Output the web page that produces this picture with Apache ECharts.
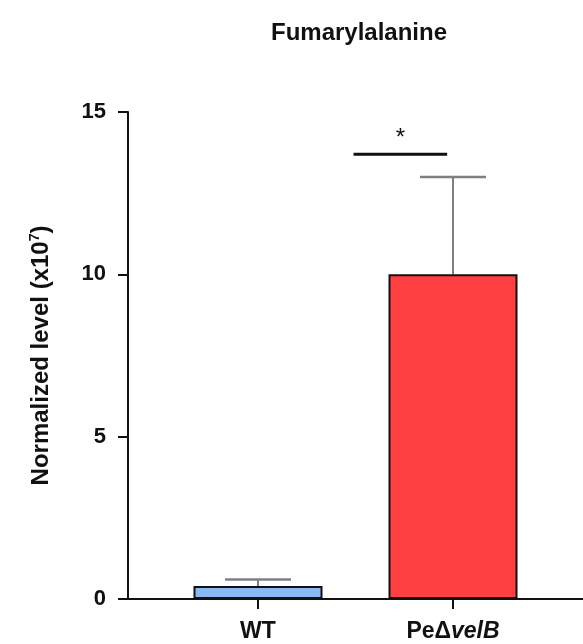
<!DOCTYPE html>
<html><head><meta charset="utf-8">
<script src="https://cdn.jsdelivr.net/npm/echarts@6/dist/echarts.min.js"></script>
<style>html,body{margin:0;padding:0;background:#fff}#c{width:583px;height:644px}</style>
</head><body><div id="c"></div>
<script>
// Data
const categories = ['WT', 'PeΔvelB'];
const categoryPositions = [1, 2];
const means = [0.4, 10.0];
const errorTops = [0.6, 13.0];
const barColors = ['#8ab8f5', '#ff4040'];
const yTicks = [0, 5, 10, 15];
const sigFrom = [1.49];
const sigTo = [1.97];
const sigLevel = [13.7];
const sigLabel = ['*'];

const FONT = '"Liberation Sans", Arial, sans-serif';
const chart = echarts.init(document.getElementById('c'));

const barData = categoryPositions.map((p, i) => ({
  value: [p, means[i]],
  itemStyle: { color: barColors[i], borderColor: '#111', borderWidth: 2 }
}));
const errData = categoryPositions.map((p, i) => [p, means[i], errorTops[i]]);
const sigData = sigFrom.map((f, i) => [f, sigTo[i], sigLevel[i], sigLabel[i]]);

chart.setOption({
  animation: false,
  backgroundColor: '#fff',
  title: {
    text: 'Fumarylalanine', left: 354, top: 16, textAlign: 'center',
    textStyle: { fontFamily: FONT, fontWeight: 'bold', fontSize: 24, color: '#111' }
  },
  grid: { left: 128, right: 0, top: 112, bottom: 45, containLabel: false },
  xAxis: {
    type: 'value', min: 1/3, max: 8/3,
    splitLine: { show: false },
    axisLine: { show: true, lineStyle: { color: '#111', width: 2 } },
    axisTick: { show: true, customValues: categoryPositions, length: 10, lineStyle: { color: '#111', width: 2 } },
    axisLabel: {
      customValues: categoryPositions, margin: 21,
      formatter: v => {
        const i = categoryPositions.indexOf(v);
        if (i === 1) return '{n|Pe\u0394}{i|velB}';
        return i >= 0 ? '{n|' + categories[i] + '}' : '';
      },
      rich: {
        n: { fontFamily: FONT, fontWeight: 'bold', fontSize: 23, color: '#111' },
        i: { fontFamily: FONT, fontWeight: 'bold', fontStyle: 'italic', fontSize: 23, color: '#111' }
      }
    }
  },
  yAxis: {
    type: 'value', min: 0, max: 15, interval: 5,
    splitLine: { show: false },
    axisLine: { show: true, lineStyle: { color: '#111', width: 2 } },
    axisTick: { show: true, length: 10, lineStyle: { color: '#111', width: 2 } },
    axisLabel: { margin: 22, fontFamily: FONT, fontWeight: 'bold', fontSize: 22, color: '#111' },
    name: '{n|Normalized level (x10}{s|7}{n|)}',
    nameLocation: 'middle', nameGap: 74, nameRotate: 90,
    nameTextStyle: {
      rich: {
        n: { fontFamily: FONT, fontWeight: 'bold', fontSize: 24, color: '#111' },
        s: { fontFamily: FONT, fontWeight: 'bold', fontSize: 14, color: '#111', verticalAlign: 'top', padding: [0, 0, 12, 0] }
      }
    }
  },
  series: [
    {
      type: 'custom', z: 1,
      renderItem: (params, api) => {
        const x = api.value(0);
        const b = api.coord([x, api.value(1)]);
        const t = api.coord([x, api.value(2)]);
        const half = 33;
        return { type: 'group', children: [
          { type: 'line', shape: { x1: b[0], y1: b[1], x2: t[0], y2: t[1] }, style: { stroke: '#7f7f7f', lineWidth: 2 } },
          { type: 'line', shape: { x1: t[0] - half, y1: t[1], x2: t[0] + half, y2: t[1] }, style: { stroke: '#7f7f7f', lineWidth: 2.5 } }
        ]};
      },
      data: errData
    },
    {
      type: 'bar', z: 2, barWidth: 129, data: barData
    },
    {
      type: 'custom', z: 3,
      renderItem: (params, api) => {
        const a = api.coord([api.value(0), api.value(2)]);
        const b = api.coord([api.value(1), api.value(2)]);
        return { type: 'group', children: [
          { type: 'line', shape: { x1: a[0], y1: a[1], x2: b[0], y2: b[1] }, style: { stroke: '#111', lineWidth: 3 } },
          { type: 'text', style: { text: sigData[params.dataIndex][3], x: (a[0] + b[0]) / 2, y: a[1] - 4, align: 'center', verticalAlign: 'bottom', font: '24px ' + FONT, fill: '#111' } }
        ]};
      },
      data: sigData.map(d => d.slice(0, 3))
    }
  ]
});
</script>
</body></html>
